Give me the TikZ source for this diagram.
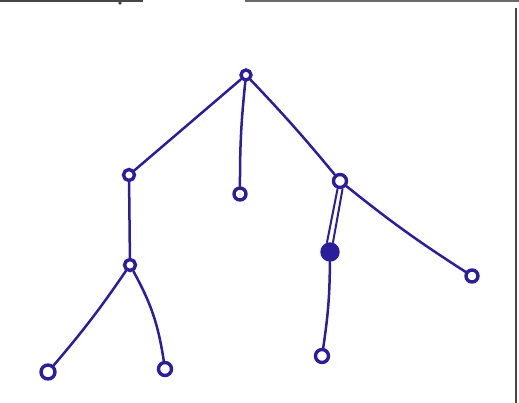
\documentclass[tikz,border=0pt]{standalone}
\usepackage{tikz}
\usetikzlibrary{positioning,calc}
\definecolor{ink}{RGB}{42,30,155}
\definecolor{edgegray}{RGB}{70,70,70}
\tikzset{knot/.style={shape=circle,draw=ink,line width=3.4pt,inner sep=0pt,minimum size=11pt}}
\tikzset{wire/.style={draw=ink,line width=2.5pt,line cap=round}}
\begin{document}
\begin{tikzpicture}[x=1pt, y=-1pt, semithick]
\useasboundingbox (0,0) rectangle (519,403);
% scan border
\draw[edgegray, line width=1.6pt] (0,1) -- (143,1);
\fill[edgegray] (120,3) circle (1.8);
\draw[edgegray!80, line width=1.6pt] (245,1) -- (519,1);
\draw[edgegray, line width=1.2pt] (516,8) -- (516,403);
% knots
    \node[knot,minimum size=10pt] (root) at (246,75) {};
    \node[knot] (a) at (129,175) {};
    \node[knot,minimum size=12pt] (b) at (240,194) {};
    \node[knot,minimum size=13pt] (c) at (340,181) {};
    \node[knot] (aa) at (130,265) {};
    \node[knot,minimum size=14pt] (aaa) at (48,372) {};
    \node[knot,minimum size=13pt] (aab) at (165,369) {};
    \node[knot,fill=ink,minimum size=16pt] (ca) at (330,252) {};
    \node[knot,minimum size=13pt] (caa) at (322,356) {};
    \node[knot,minimum size=12pt] (cb) at (472,276) {};
% strokes
    \draw[wire] (root) -- (a);
    \draw[wire] (root) to[bend right=3] (b);
    \draw[wire] (root) to[bend left=2] (c);
    \draw[wire] (a) -- (aa);
    \draw[wire] (aa) to[bend left=3] (aaa);
    \draw[wire] (aa) to[bend left=10] (aab);
    \draw[wire,line width=2pt] ([xshift=-2.5pt]c.south) -- ([xshift=-3pt]ca.north);
    \draw[wire,line width=2pt] ([xshift=2.5pt]c.south) -- ([xshift=3pt]ca.north);
    \draw[wire] (ca) to[bend left=4] (caa);
    \draw[wire] (c) to[bend right=3] (cb);
\end{tikzpicture}
\end{document}
